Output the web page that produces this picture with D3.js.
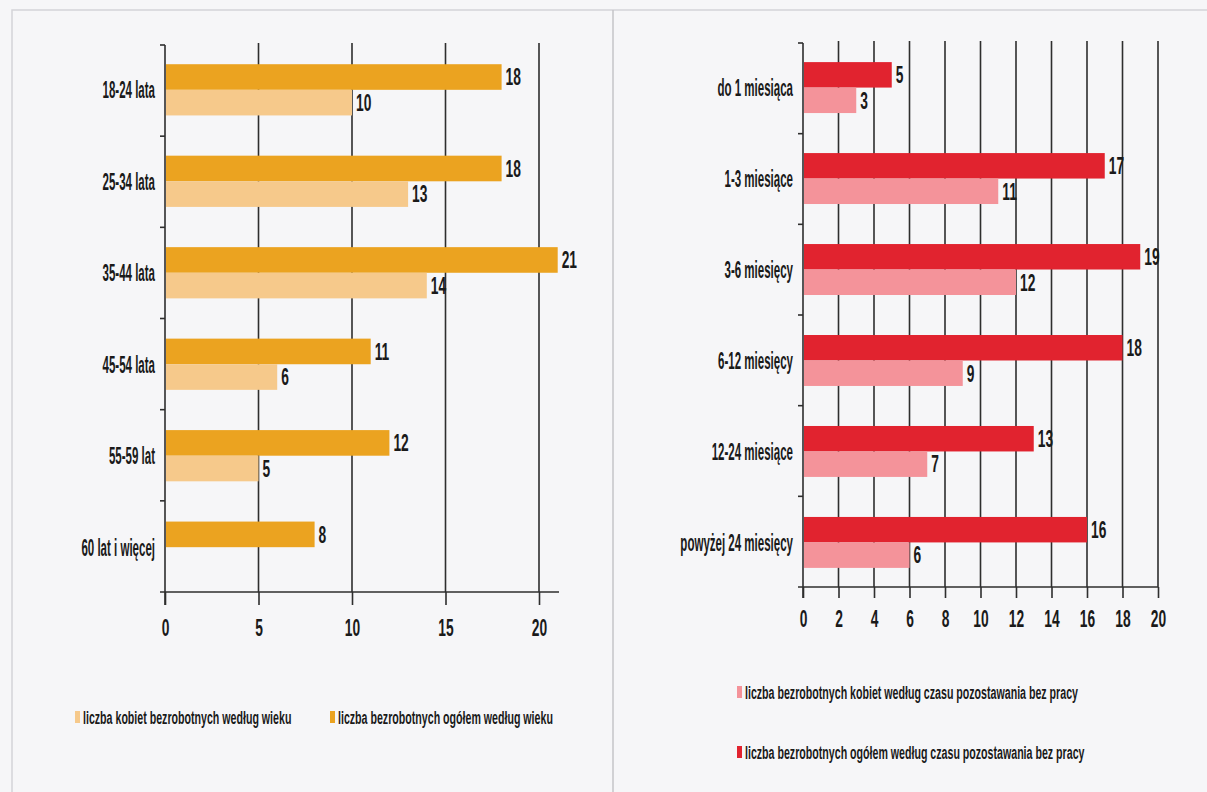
<!DOCTYPE html>
<html>
<head>
<meta charset="utf-8">
<script src="https://cdn.jsdelivr.net/npm/d3@7"></script>
<style>
  body { margin: 0; background: #f6f6f8; }
  text { font-family: "Liberation Sans", Arial, sans-serif; fill: #1a1a1a; font-weight: bold; }
</style>
</head>
<body>
<script>
// wiek
var ageCats = ['18-24 lata', '25-34 lata', '35-44 lata', '45-54 lata', '55-59 lat', '60 lat i więcej'];
var ageTotal = [18, 18, 21, 11, 12, 8];
var ageWomen = [10, 13, 14, 6, 5, null];
var ageTicks = [0, 5, 10, 15, 20];

// czas pozostawania bez pracy
var timeCats = ['do 1 miesiąca', '1-3 miesiące', '3-6 miesięcy', '6-12 miesięcy', '12-24 miesiące', 'powyżej 24 miesięcy'];
var timeTotal = [5, 17, 19, 18, 13, 16];
var timeWomen = [3, 11, 12, 9, 7, 6];
var timeTicks = [0, 2, 4, 6, 8, 10, 12, 14, 16, 18, 20];

var legendLeft = ['liczba kobiet bezrobotnych według wieku', 'liczba bezrobotnych ogółem według wieku'];
var legendRight = ['liczba bezrobotnych kobiet według czasu pozostawania bez pracy', 'liczba bezrobotnych ogółem według czasu pozostawania bez pracy'];

var W = 1207, H = 792;
var NUM_SX = 0.6;   // condensed look
var CAT_SX = 0.48;
var LEG_SX = 0.56;

var svg = d3.select('body').append('svg')
    .attr('width', W)
    .attr('height', H);

// page frame + divider
svg.append('rect')
    .attr('x', 12).attr('y', 10)
    .attr('width', W + 20).attr('height', H + 20)
    .attr('fill', 'none')
    .attr('stroke', '#d4d4d8')
    .attr('stroke-width', 1.5);
svg.append('line')
    .attr('x1', 613).attr('x2', 613)
    .attr('y1', 10).attr('y2', H)
    .attr('stroke', '#c4c4c8')
    .attr('stroke-width', 1.5);

function drawChart(opt) {
    var x = d3.scaleLinear().domain([0, 20]).range([opt.x0, opt.x1]);
    var y = d3.scaleBand().domain(opt.cats).range([opt.top, opt.bottom])
        .paddingInner(0.44).paddingOuter(0.21);
    var inner = d3.scaleBand().domain(['total', 'women']).range([0, y.bandwidth()]);

    var g = svg.append('g');

    // vertical grid lines
    g.selectAll('.grid')
        .data(opt.ticks.filter(function (d) { return d > 0; }))
        .enter().append('line')
        .attr('x1', function (d) { return x(d); })
        .attr('x2', function (d) { return x(d); })
        .attr('y1', opt.top - 2)
        .attr('y2', opt.bottom)
        .attr('stroke', '#2e2e2e')
        .attr('stroke-width', 1.6);

    // x axis
    var xAxis = d3.axisBottom(x).tickValues(opt.ticks).tickSize(opt.tickLen).tickPadding(opt.tickPad);
    var ax = g.append('g')
        .attr('transform', 'translate(0,' + opt.bottom + ')')
        .call(xAxis);
    ax.select('.domain').remove();
    ax.selectAll('line').attr('stroke', '#2e2e2e').attr('stroke-width', 1.6);
    ax.selectAll('text')
        .attr('font-size', 23)
        .attr('font-family', null)
        .attr('fill', '#1a1a1a')
        .attr('transform', 'scale(' + NUM_SX + ',1)');

    g.append('line')
        .attr('x1', opt.x0 - 5).attr('x2', opt.axisEnd)
        .attr('y1', opt.bottom).attr('y2', opt.bottom)
        .attr('stroke', '#2e2e2e').attr('stroke-width', 1.6);

    // y axis + boundary ticks
    g.append('line')
        .attr('x1', opt.x0).attr('x2', opt.x0)
        .attr('y1', opt.top).attr('y2', opt.bottom + opt.tickLen)
        .attr('stroke', '#2e2e2e').attr('stroke-width', 1.6);
    var stepH = (opt.bottom - opt.top) / opt.cats.length;
    g.selectAll('.ytick')
        .data(d3.range(opt.cats.length))
        .enter().append('line')
        .attr('x1', opt.x0 - 5).attr('x2', opt.x0)
        .attr('y1', function (i) { return opt.top + i * stepH; })
        .attr('y2', function (i) { return opt.top + i * stepH; })
        .attr('stroke', '#2e2e2e').attr('stroke-width', 1.6);

    // bars
    var rows = opt.cats.map(function (c, i) {
        return [
            { cat: c, key: 'total', v: opt.total[i] },
            { cat: c, key: 'women', v: opt.women[i] }
        ];
    });
    var flat = [].concat.apply([], rows).filter(function (d) { return d.v != null; });

    g.selectAll('.bar')
        .data(flat)
        .enter().append('rect')
        .attr('x', x(0) + 1)
        .attr('y', function (d) { return y(d.cat) + inner(d.key); })
        .attr('width', function (d) { return x(d.v) - x(0) - 1; })
        .attr('height', inner.bandwidth())
        .attr('fill', function (d) { return d.key == 'total' ? opt.dark : opt.light; });

    g.selectAll('.val')
        .data(flat)
        .enter().append('text')
        .attr('transform', function (d) {
            return 'translate(' + (x(d.v) + 4) + ',' + (y(d.cat) + inner(d.key) + inner.bandwidth() / 2) + ') scale(' + NUM_SX + ',1)';
        })
        .attr('dy', '0.36em')
        .attr('font-size', 23)
        .text(function (d) { return d.v; });

    // category labels
    g.selectAll('.cat')
        .data(opt.cats)
        .enter().append('text')
        .attr('transform', function (d) {
            return 'translate(' + (opt.x0 - 10) + ',' + (y(d) + y.bandwidth() / 2) + ') scale(' + CAT_SX + ',1)';
        })
        .attr('dy', '0.36em')
        .attr('text-anchor', 'end')
        .attr('font-size', 24)
        .text(function (d) { return d; });

    // legend
    opt.legend.forEach(function (l, i) {
        var lg = svg.append('g').attr('transform', 'translate(' + l.x + ',' + l.y + ')');
        lg.append('rect')
            .attr('x', 0).attr('y', -6)
            .attr('width', 5).attr('height', 12)
            .attr('fill', i == 0 ? opt.light : opt.dark);
        lg.append('text')
            .attr('transform', 'translate(8,0) scale(' + LEG_SX + ',1)')
            .attr('dy', '0.36em')
            .attr('font-size', 19)
            .text(l.text);
    });
}

drawChart({
    cats: ageCats, total: ageTotal, women: ageWomen, ticks: ageTicks,
    x0: 165, x1: 539, axisEnd: 559, top: 45, bottom: 592,
    tickLen: 13, tickPad: 15,
    dark: '#eba320', light: '#f6c98b',
    legend: [
        { x: 75, y: 717, text: legendLeft[0] },
        { x: 330, y: 717, text: legendLeft[1] }
    ]
});

drawChart({
    cats: timeCats, total: timeTotal, women: timeWomen, ticks: timeTicks,
    x0: 803, x1: 1158, axisEnd: 1158, top: 43, bottom: 587,
    tickLen: 11, tickPad: 13,
    dark: '#e1232f', light: '#f4939a',
    legend: [
        { x: 737, y: 692, text: legendRight[0] },
        { x: 737, y: 752, text: legendRight[1] }
    ]
});
</script>
</body>
</html>
